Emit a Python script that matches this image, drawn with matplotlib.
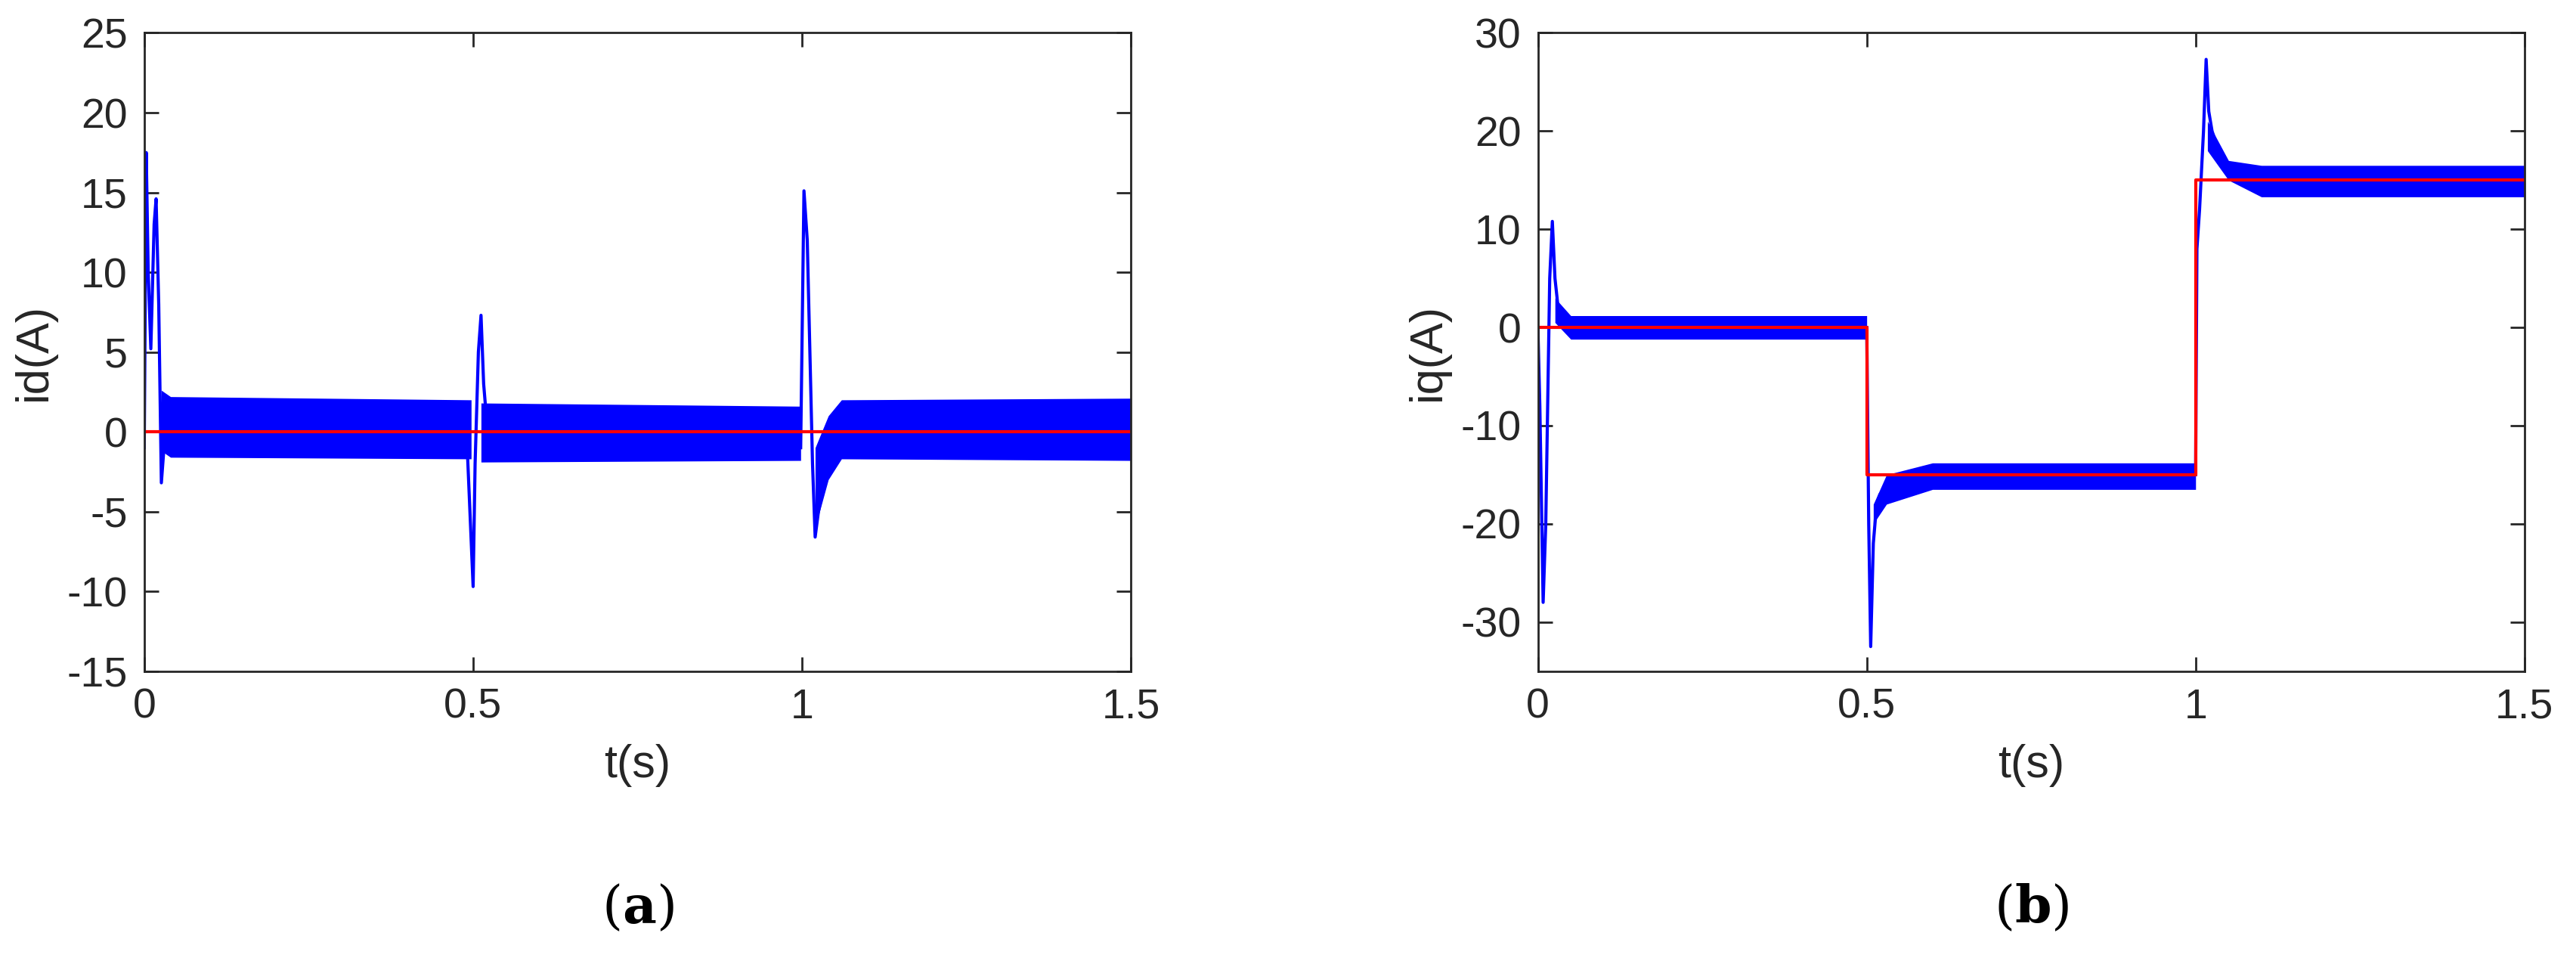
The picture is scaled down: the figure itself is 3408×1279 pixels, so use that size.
import matplotlib
matplotlib.use("Agg")
import matplotlib.pyplot as plt

plt.rcParams["font.family"] = ["Liberation Sans", "DejaVu Sans"]
plt.rcParams["axes.unicode_minus"] = False
plt.rcParams["mathtext.fontset"] = "dejavuserif"

# ==== panel (a): id ====
ID_REF_T = [0, 1.5]
ID_REF_V = [0, 0]
# transient traces (t, value)
ID_TR = [
    ([0, 0.003, 0.006, 0.01, 0.015, 0.018, 0.022, 0.026, 0.03, 0.035],
     [-1, 17.5, 10, 5.2, 13, 14.6, 8, -3.2, -1, 1]),
    ([0.49, 0.5, 0.503, 0.508, 0.512, 0.516, 0.52],
     [0, -9.7, -2, 5, 7.3, 3, 1]),
    ([0.998, 1.003, 1.008, 1.012, 1.016, 1.02, 1.025, 1.035, 1.05, 1.06],
     [-1, 15.1, 12, 5, -2, -6.6, -5, -3, -1.5, -1]),
]
# ripple band envelopes (t, upper, lower)
ID_BAND = [
    ([0.026, 0.04, 0.497], [2.6, 2.2, 2.0], [-1.2, -1.6, -1.7]),
    ([0.512, 0.998], [1.8, 1.6], [-1.9, -1.8]),
    ([1.02, 1.04, 1.06, 1.5], [-1.0, 1.0, 2.0, 2.1], [-6.0, -3.0, -1.7, -1.8]),
]

# ==== panel (b): iq ====
IQ_REF_T = [0, 0.5, 0.5, 1.0, 1.0, 1.5]
IQ_REF_V = [0, 0, -15, -15, 15, 15]
IQ_TR = [
    ([0, 0.003, 0.008, 0.012, 0.018, 0.022, 0.026, 0.03, 0.035, 0.04],
     [0, -8, -28, -20, 5, 10.8, 5, 2.5, 1.5, 1]),
    ([0.5, 0.503, 0.506, 0.51, 0.515, 0.52, 0.53],
     [0, -20, -32.5, -22, -18, -17, -16.5]),
    ([1.0, 1.002, 1.006, 1.012, 1.016, 1.02, 1.025, 1.03],
     [-15, 8, 12, 20, 27.3, 22, 20, 19]),
]
IQ_BAND = [
    ([0.026, 0.05, 0.5], [3.0, 1.2, 1.2], [0.5, -1.2, -1.2]),
    ([0.51, 0.53, 0.6, 1.0], [-18, -15, -13.8, -13.8], [-20, -18, -16.5, -16.5]),
    ([1.018, 1.05, 1.1, 1.5], [21, 17, 16.5, 16.5], [18, 15, 13.3, 13.3]),
]

BLUE = "#0000ff"
RED = "#ff0000"
INK = "#262626"


def draw(ax, bands, traces, ref_t, ref_v, ylim, yticks, ylabel):
    for t, up, lo in bands:
        ax.fill_between(t, lo, up, color=BLUE, lw=0)
    for t, v in traces:
        ax.plot(t, v, color=BLUE, lw=3)
    ax.plot(ref_t, ref_v, color=RED, lw=3)
    ax.set_xlim(0, 1.5)
    ax.set_ylim(*ylim)
    ax.set_xticks([0, 0.5, 1, 1.5])
    ax.set_xticklabels(["0", "0.5", "1", "1.5"])
    ax.set_yticks(yticks)
    ax.tick_params(labelsize=40, direction="in", length=14, width=2,
                   top=True, right=True, pad=16, colors=INK)
    for s in ax.spines.values():
        s.set_linewidth(2)
        s.set_color(INK)
    ax.set_xlabel("t(s)", fontsize=44, color=INK, labelpad=16)
    ax.set_ylabel(ylabel, fontsize=44, color=INK, labelpad=10)


fig = plt.figure(figsize=(34.08, 12.79), dpi=100)
ax1 = fig.add_axes([0.056, 0.306, 0.383, 0.660])
ax2 = fig.add_axes([0.597, 0.306, 0.383, 0.660])

draw(ax1, ID_BAND, ID_TR, ID_REF_T, ID_REF_V, (-15, 25),
     list(range(-15, 26, 5)), "id(A)")
draw(ax2, IQ_BAND, IQ_TR, IQ_REF_T, IQ_REF_V, (-35, 30),
     list(range(-30, 31, 10)), "iq(A)")

fig.text(0.2475, 0.045, r"($\mathbf{a}$)", fontsize=50, family="DejaVu Serif",
         ha="center")
fig.text(0.7885, 0.045, r"($\mathbf{b}$)", fontsize=50, family="DejaVu Serif",
         ha="center")

fig.savefig("out.png", dpi=100)
